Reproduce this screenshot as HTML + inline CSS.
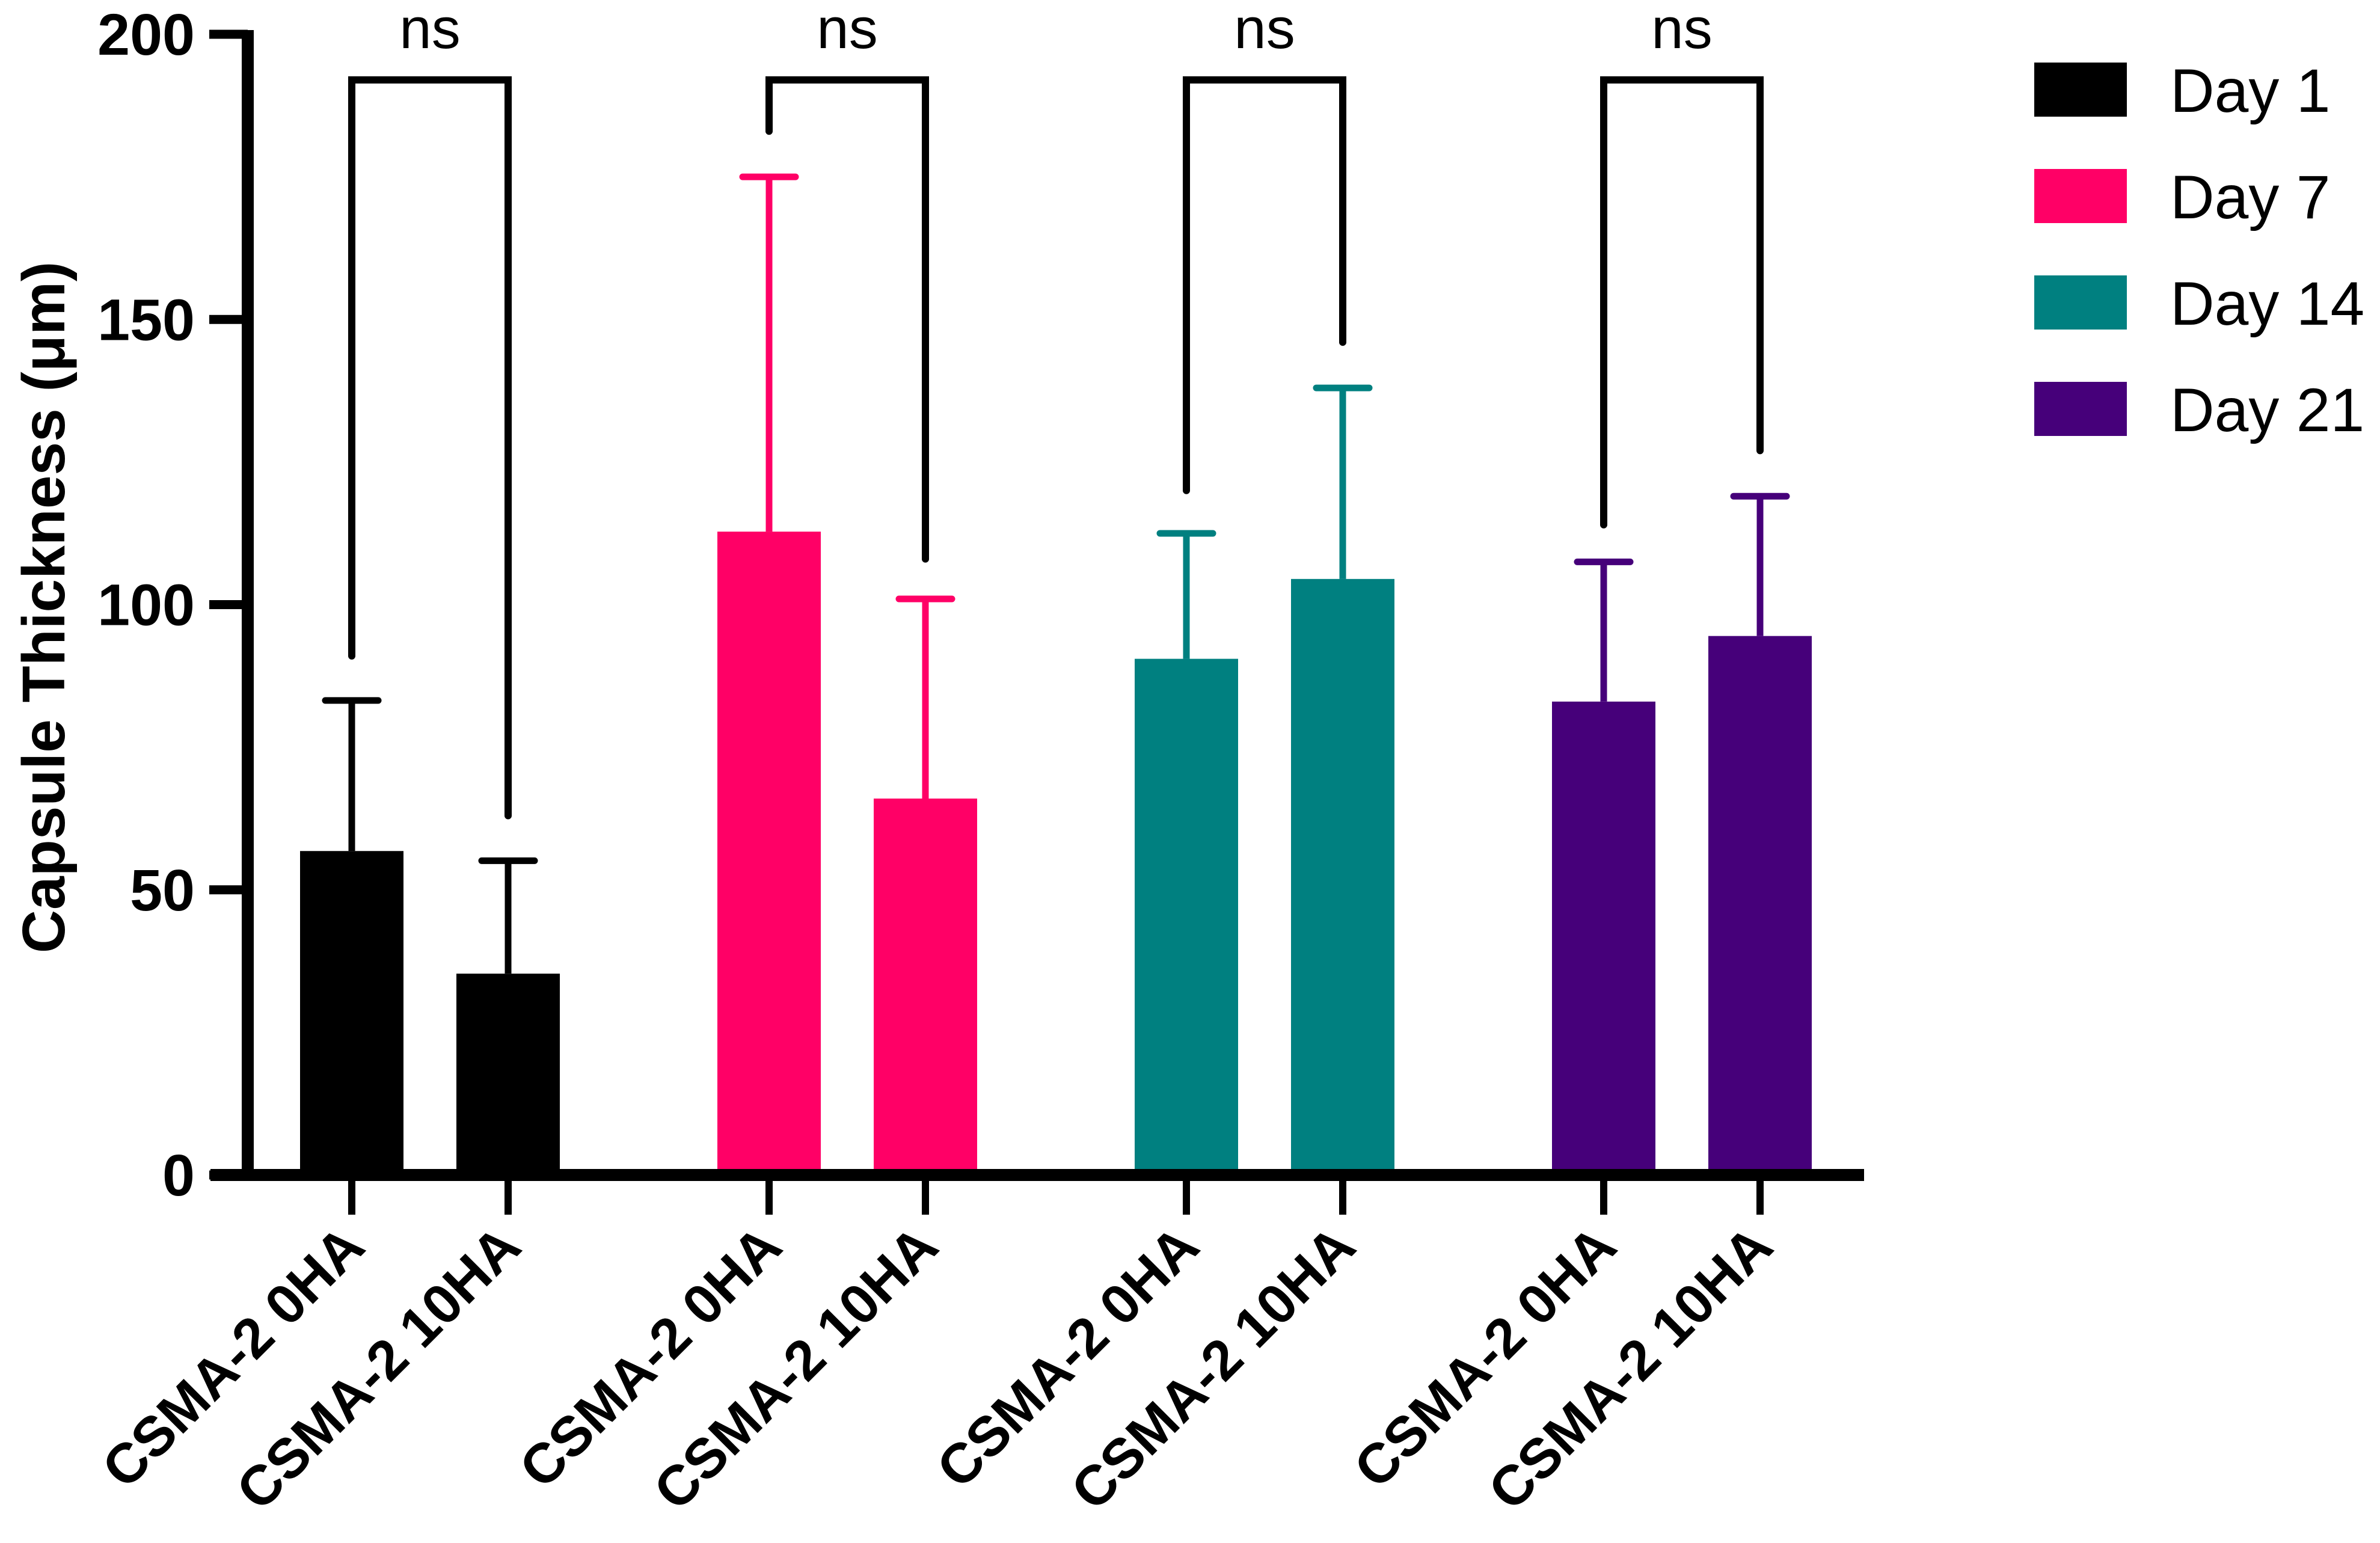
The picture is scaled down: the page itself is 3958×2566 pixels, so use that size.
<!DOCTYPE html>
<html><head><meta charset="utf-8">
<style>html,body{margin:0;padding:0;background:#fff;}svg{display:block;}</style>
</head><body>
<svg id="chart" width="3958" height="2566" viewBox="0 0 3958 2566" xmlns="http://www.w3.org/2000/svg" font-family="Liberation Sans, Arial, sans-serif"></svg>
<script>
const categories = ["CSMA-2 0HA","CSMA-2 10HA","CSMA-2 0HA","CSMA-2 10HA","CSMA-2 0HA","CSMA-2 10HA","CSMA-2 0HA","CSMA-2 10HA"];
const groupIndex = [0,0,1,1,2,2,3,3];
const seriesNames = ["Day 1","Day 7","Day 14","Day 21"];
const seriesColors = ["#000000","#ff0066","#008080","#46007a"];
const means = [56.8,35.3,112.8,66,90.5,104.5,83,94.5];
const errTops = [83.2,55.1,175,101,112.5,138,107.5,119];
const bracketLeftEnds = [91,183,120,114];
const bracketRightEnds = [63,108,146,127];
const bracketTop = 192;
const yTicks = [0,50,100,150,200];

const svg = document.getElementById('chart');
const NS = 'http://www.w3.org/2000/svg';
function mk(tag, attrs, parent){const e=document.createElementNS(NS,tag);for(const k in attrs)e.setAttribute(k,attrs[k]);(parent||svg).appendChild(e);return e;}

const y0 = 1954, yPer = 9.485;
function yScale(v){return y0 - v*yPer;}
const xCenters0 = 585, pairGap = 260, groupGap = 694;
function xScale(i){return xCenters0 + groupIndex[i]*groupGap + (i%2)*pairGap;}
const barW = 172;

categories.forEach((c,i)=>{
  const col = seriesColors[groupIndex[i]];
  const cx = xScale(i);
  const eb = mk('line',{x1:cx,x2:cx,y1:yScale(means[i]),y2:yScale(errTops[i]),stroke:col,'stroke-width':11});
  
  
  const cap = mk('line',{x1:cx-44,x2:cx+44,y1:yScale(errTops[i]),y2:yScale(errTops[i]),stroke:col,'stroke-width':11,'stroke-linecap':'round'});
  
  
  const r = mk('rect',{x:cx-barW/2,y:yScale(means[i]),width:barW,height:y0-yScale(means[i]),fill:col});
  
  
  const t = mk('line',{x1:cx,x2:cx,y1:y0,y2:2020,stroke:'#000','stroke-width':12});
  
  
  const lx = cx+26, ly = 2078;
  const tl = mk('text',{x:lx,y:ly,'font-size':93,'font-weight':'bold','text-anchor':'end',transform:`rotate(-45 ${lx} ${ly})`,fill:'#000'});
  tl.textContent = c;
  
  
});

for(let g=0;g<4;g++){
  const xl = xScale(g*2), xr = xScale(g*2+1);
  const yt = yScale(bracketTop);
  const p = mk('path',{d:`M${xl},${yScale(bracketLeftEnds[g])} L${xl},${yt} L${xr},${yt} L${xr},${yScale(bracketRightEnds[g])}`,fill:'none',stroke:'#000','stroke-width':12,'stroke-linecap':'round','stroke-linejoin':'miter'});
  
  
  const ns = mk('text',{x:(xl+xr)/2,y:80,'font-size':96,'text-anchor':'middle',fill:'#000'});
  ns.textContent='ns';
  
  
}

const ya = mk('line',{x1:412,x2:412,y1:50,y2:1964,stroke:'#000','stroke-width':20});


const xa = mk('line',{x1:350,x2:3100,y1:y0,y2:y0,stroke:'#000','stroke-width':20});


yTicks.forEach(v=>{
  const t = mk('line',{x1:348,x2:412,y1:yScale(v),y2:yScale(v),stroke:'#000','stroke-width':15});
  
  
  const tx = mk('text',{x:324,y:yScale(v)+34,'font-size':97,'font-weight':'bold','text-anchor':'end',fill:'#000'});
  tx.textContent = v;
  
  
});
const yt = mk('text',{x:0,y:0,'font-size':100,'font-weight':'bold','text-anchor':'middle',transform:'translate(107,1010) rotate(-90)',fill:'#000'});
yt.textContent = 'Capsule Thickness (μm)';



seriesNames.forEach((n,i)=>{
  const y = 104 + i*177;
  const s = mk('rect',{x:3383,y:y,width:154,height:90,fill:seriesColors[i]});
  
  
  const t = mk('text',{x:3609,y:y+82,'font-size':102,fill:'#000'});
  t.textContent = n;
  
  
});
</script>
</body></html>
